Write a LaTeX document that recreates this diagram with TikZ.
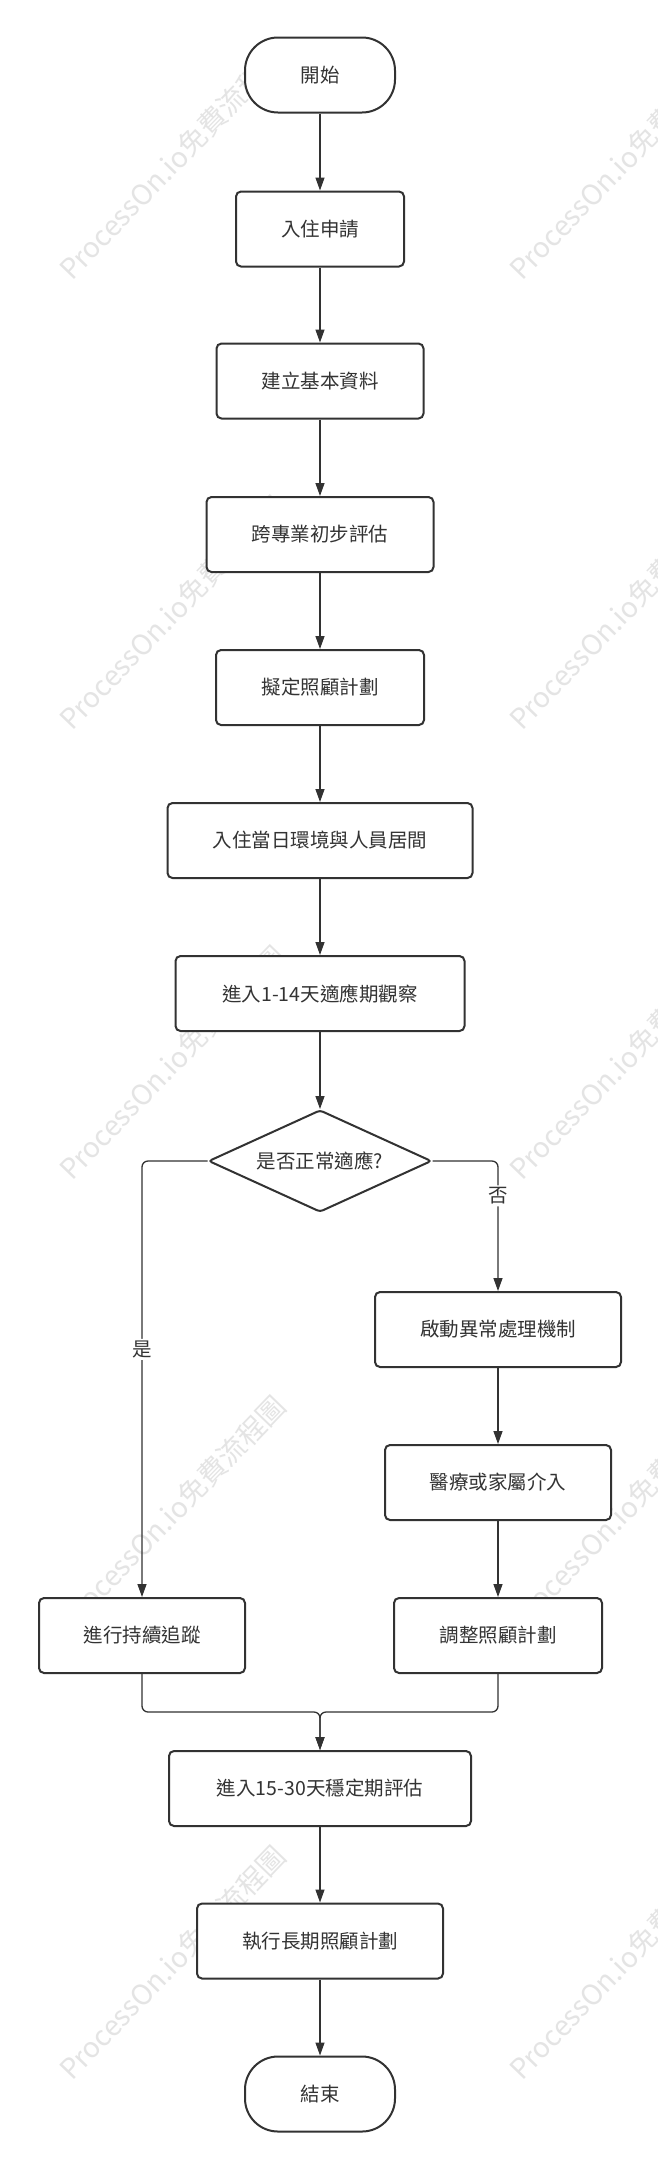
\documentclass[tikz,border=0pt]{standalone}
\usepackage{fontspec}
\setmainfont{Noto Sans CJK TC}
\usetikzlibrary{arrows.meta,shapes.geometric}
\definecolor{ink}{HTML}{323232}
\definecolor{txt}{HTML}{333333}
\definecolor{wm}{HTML}{E4E4E4}
\begin{document}
\begin{tikzpicture}[x=1pt,y=-1pt,
  box/.style={draw=ink, line width=2pt, fill=white, rounded corners=5pt,
    minimum height=75pt, inner sep=0pt, text=txt, font=\fontsize{19.5}{23}\selectfont},
  term/.style={box, rounded corners=33pt},
  decis/.style={diamond, aspect=2.2, draw=ink, line width=2pt, fill=white, rounded corners=3pt,
    minimum width=223pt, minimum height=102pt, inner sep=0pt, text=txt, font=\fontsize{19.5}{23}\selectfont},
  conn/.style={draw=ink, line width=1.3pt, -{Triangle[length=13pt,width=9pt]}, rounded corners=6pt},
  lbl/.style={fill=white, text=txt, font=\fontsize{19.5}{23}\selectfont, inner sep=2pt},
  wmark/.style={text=wm, rotate=46, anchor=base west, inner sep=0pt, font=\fontsize{28}{30}\selectfont}
]
\useasboundingbox (0,0) rectangle (658,2169);
\clip (0,0) rectangle (658,2169);
\fill[white] (0,0) rectangle (658,2169);
% watermarks
\foreach \wx in {72,522}{
  \foreach \wy in {282,732,1182,1632,2082}{
    \node[wmark] (w\wx-\wy) at (\wx,\wy) {ProcessOn.io免費流程圖};
  }
}
% nodes
\node[term, minimum width=150pt] (start) at (320,75) {開始};
\node[box, minimum width=168pt] (apply) at (320,229) {入住申請};
\node[box, minimum width=207pt] (basic) at (320,381) {建立基本資料};
\node[box, minimum width=227pt] (assess) at (320,534.5) {跨專業初步評估};
\node[box, minimum width=208pt] (plan) at (320,687.5) {擬定照顧計劃};
\node[box, minimum width=305pt] (day1) at (320,840.5) {入住當日環境與人員居間};
\node[box, minimum width=289pt] (adapt) at (320,993.5) {進入1-14天適應期觀察};
\node[decis] (dec) at (320,1161) {是否正常適應?};
\node[box, minimum width=246pt] (abn) at (498,1329.5) {啟動異常處理機制};
\node[box, minimum width=226pt] (med) at (498,1482.5) {醫療或家屬介入};
\node[box, minimum width=206pt] (track) at (142,1635.5) {進行持續追蹤};
\node[box, minimum width=208pt] (adjust) at (498,1635.5) {調整照顧計劃};
\node[box, minimum width=302pt] (stable) at (320,1788.5) {進入15-30天穩定期評估};
\node[box, minimum width=246pt] (exec) at (320,1941) {執行長期照顧計劃};
\node[term, minimum width=150pt] (end) at (320,2094) {結束};
\coordinate (merge) at (320,1712);
% connectors
\draw[conn] (start) -- (apply);
\draw[conn] (apply) -- (basic);
\draw[conn] (basic) -- (assess);
\draw[conn] (assess) -- (plan);
\draw[conn] (plan) -- (day1);
\draw[conn] (day1) -- (adapt);
\draw[conn] (adapt) -- (dec);
\draw[conn] (dec.west) -| node[lbl, pos=0.716] (yes) {是} (track.north);
\draw[conn] (dec.east) -| node[lbl, pos=0.634] (no) {否} (abn.north);
\draw[conn] (abn) -- (med);
\draw[conn] (med) -- (adjust);
\draw[conn] (track.south) |- (merge) -- (stable.north);
\draw[conn] (adjust.south) |- (merge) -- (stable.north);
\draw[conn] (stable) -- (exec);
\draw[conn] (exec) -- (end);
\end{tikzpicture}
\end{document}
